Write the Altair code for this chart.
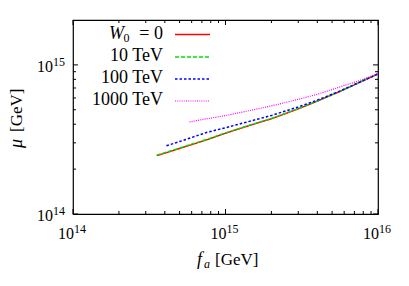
import altair as alt
import pandas as pd

# ---- data ----
series_names = ["W0 = 0", "10 TeV", "100 TeV", "1000 TeV"]
legend_labels = ["= 0", "10 TeV", "100 TeV", "1000 TeV"]
series_colors = ["#ff0000", "#00e000", "#0000ff", "#ff00ff"]
series_dash = [[1, 0], [4, 2], [2.5, 2], [1, 1.2]]
series_width = [1.4, 1.4, 1.5, 1.2]

fa_w0 = [3.54e14, 5e14, 7.5e14, 1e15, 1.5e15, 2e15, 3e15, 4e15, 5.6e15, 7.5e15, 1e16]
mu_w0 = [2.46e14, 2.75e14, 3.14e14, 3.48e14, 3.98e14, 4.35e14, 5.07e14, 5.71e14, 6.62e14, 7.6e14, 8.7e14]
fa_10 = [3.54e14, 5e14, 7.5e14, 1e15, 1.5e15, 2e15, 3e15, 4e15, 5.6e15, 7.5e15, 1e16]
mu_10 = [2.48e14, 2.77e14, 3.16e14, 3.50e14, 4.0e14, 4.37e14, 5.09e14, 5.72e14, 6.63e14, 7.6e14, 8.7e14]
fa_100 = [4.1e14, 5e14, 7.5e14, 1e15, 1.5e15, 2e15, 3e15, 4e15, 5.6e15, 7.5e15, 1e16]
mu_100 = [2.87e14, 3.06e14, 3.52e14, 3.79e14, 4.23e14, 4.58e14, 5.22e14, 5.8e14, 6.66e14, 7.62e14, 8.7e14]
fa_1000 = [5.8e14, 7.5e14, 1e15, 1.5e15, 2e15, 3e15, 4e15, 5.6e15, 7.5e15, 1e16]
mu_1000 = [4.14e14, 4.35e14, 4.57e14, 4.98e14, 5.31e14, 5.87e14, 6.35e14, 7.1e14, 7.82e14, 8.75e14]

x_major = [1e14, 1e15, 1e16]
x_major_exp = ["14", "15", "16"]
x_minor = [2e14, 3e14, 4e14, 5e14, 6e14, 7e14, 8e14, 9e14,
           2e15, 3e15, 4e15, 5e15, 6e15, 7e15, 8e15, 9e15]
y_major = [1e14, 1e15]
y_major_exp = ["14", "15"]
y_minor = [2e14, 3e14, 4e14, 5e14, 6e14, 7e14, 8e14, 9e14]

W, H = 305, 194
FONT = "Liberation Serif"
BASE_FS, EXP_FS = 16, 12

xenc = alt.X(
    "fa:Q",
    scale=alt.Scale(type="log", domain=[1e14, 1e16], nice=False),
    axis=alt.Axis(values=x_major, ticks=False, domain=False, grid=False, labels=False, title=None),
)
yenc = alt.Y(
    "mu:Q",
    scale=alt.Scale(type="log", domain=[1e14, 2e15], nice=False),
    axis=alt.Axis(values=y_major, ticks=False, domain=False, grid=False, labels=False, title=None),
)

series_data = [(fa_w0, mu_w0), (fa_10, mu_10), (fa_100, mu_100), (fa_1000, mu_1000)]
layers = []
for (fa, mu), col, dash, sw in zip(series_data, series_colors, series_dash, series_width):
    df = pd.DataFrame({"fa": fa, "mu": mu})
    layers.append(
        alt.Chart(df).mark_line(color=col, strokeDash=dash, strokeWidth=sw, clip=True)
        .encode(x=xenc, y=yenc, order="fa:Q")
    )

# inward ticks on all four sides
def xticks(vals, length):
    d = pd.DataFrame({"fa": vals})
    base = alt.Chart(d).mark_rule(color="black", strokeWidth=1)
    return [
        base.encode(x=xenc, y=alt.value(H), y2=alt.value(H - length)),
        base.encode(x=xenc, y=alt.value(0), y2=alt.value(length)),
    ]

def yticks(vals, length):
    d = pd.DataFrame({"mu": vals})
    base = alt.Chart(d).mark_rule(color="black", strokeWidth=1)
    return [
        base.encode(y=yenc, x=alt.value(0), x2=alt.value(length)),
        base.encode(y=yenc, x=alt.value(W), x2=alt.value(W - length)),
    ]

layers += xticks(x_major, 5) + xticks(x_minor, 3) + yticks(y_major, 5) + yticks(y_minor, 3)

# tick labels 10^n (base + raised exponent)
xl = pd.DataFrame({"fa": x_major, "b": ["10"] * len(x_major), "e": x_major_exp})
layers.append(
    alt.Chart(xl).mark_text(font=FONT, fontSize=BASE_FS, align="right", baseline="alphabetic",
                            color="black", dx=1)
    .encode(x=xenc, y=alt.value(H + 25), text="b:N")
)
layers.append(
    alt.Chart(xl).mark_text(font=FONT, fontSize=EXP_FS, align="left", baseline="alphabetic",
                            color="black", dx=1)
    .encode(x=xenc, y=alt.value(H + 19), text="e:N")
)
yl = pd.DataFrame({"mu": y_major, "b": ["10"] * len(y_major), "e": y_major_exp})
layers.append(
    alt.Chart(yl).mark_text(font=FONT, fontSize=BASE_FS, align="right", baseline="alphabetic",
                            color="black", dx=-20, dy=7)
    .encode(y=yenc, x=alt.value(0), text="b:N")
)
layers.append(
    alt.Chart(yl).mark_text(font=FONT, fontSize=EXP_FS, align="right", baseline="alphabetic",
                            color="black", dx=-8, dy=1)
    .encode(y=yenc, x=alt.value(0), text="e:N")
)

one = pd.DataFrame({"k": [0]})

def txt(s, x, y, size, align="left", style="normal", angle=0):
    return (
        alt.Chart(one).mark_text(font=FONT, fontSize=size, align=align, baseline="alphabetic",
                                 color="black", fontStyle=style, angle=angle)
        .encode(x=alt.value(x), y=alt.value(y), text=alt.value(s))
    )

# axis titles:  f_a [GeV]  and  mu [GeV]
layers += [
    txt("f", 124, H + 51, 18, style="italic"),
    txt("a", 131, H + 54, 12, style="italic"),
    txt("[GeV]", 142, H + 51, 17),
    txt("μ", -51, 128, 18, style="italic", angle=270),
    txt("[GeV]", -51, 112, 17, angle=270),
]

# legend (labels left of the line samples, as in gnuplot)
row_base = [19, 41, 63, 85]
line_y = [14.5, 37, 59, 81]
for i, (lab, col, dash, sw) in enumerate(zip(legend_labels, series_colors, series_dash, series_width)):
    layers.append(
        alt.Chart(one).mark_rule(color=col, strokeDash=dash, strokeWidth=sw)
        .encode(x=alt.value(102), x2=alt.value(137), y=alt.value(line_y[i]))
    )
    layers.append(txt(lab, 90, row_base[i], 18, align="right"))
layers.append(txt("W", 51, row_base[0], 18, align="right", style="italic"))
layers.append(txt("0", 50.5, row_base[0] + 3, 12))

chart = (
    alt.layer(*layers)
    .properties(width=W, height=H, autosize=alt.AutoSizeParams(type="none"),
                padding={"left": 65, "top": 12, "right": 23, "bottom": 64},
                background="white")
    .configure_view(stroke="black", strokeWidth=1.2)
)

chart.save("out.html", embed_options={"renderer": "svg", "actions": False})
